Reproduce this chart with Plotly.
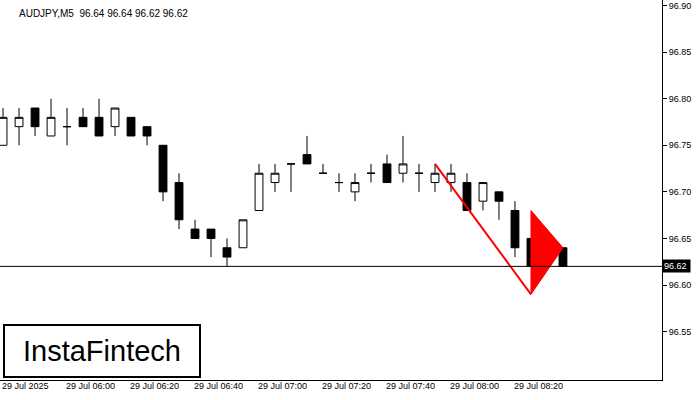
import plotly.graph_objects as go

# candles from 05:40, 5 minute bars
idx = list(range(36))
opens = [96.75, 96.77, 96.79, 96.76, 96.77, 96.78, 96.78, 96.77, 96.78, 96.77,
         96.75, 96.71, 96.66, 96.66, 96.64, 96.64, 96.68, 96.71, 96.73, 96.74,
         96.72, 96.71, 96.70, 96.72, 96.73, 96.72, 96.72, 96.71, 96.71, 96.71,
         96.69, 96.70, 96.68, 96.65, 96.63, 96.64]
highs = [96.79, 96.79, 96.79, 96.80, 96.79, 96.79, 96.80, 96.79, 96.78, 96.77,
         96.75, 96.72, 96.67, 96.66, 96.65, 96.67, 96.73, 96.73, 96.73, 96.76,
         96.73, 96.72, 96.72, 96.73, 96.74, 96.76, 96.73, 96.73, 96.73, 96.72,
         96.71, 96.70, 96.69, 96.65, 96.65, 96.64]
lows = [96.75, 96.75, 96.76, 96.76, 96.75, 96.77, 96.76, 96.76, 96.76, 96.75,
        96.69, 96.66, 96.65, 96.63, 96.62, 96.64, 96.68, 96.70, 96.70, 96.73,
        96.72, 96.70, 96.69, 96.71, 96.71, 96.71, 96.70, 96.70, 96.70, 96.68,
        96.68, 96.67, 96.63, 96.62, 96.62, 96.62]
closes = [96.78, 96.78, 96.77, 96.78, 96.77, 96.77, 96.76, 96.79, 96.76, 96.76,
          96.70, 96.67, 96.65, 96.65, 96.63, 96.67, 96.72, 96.72, 96.73, 96.73,
          96.72, 96.71, 96.71, 96.72, 96.71, 96.73, 96.72, 96.72, 96.72, 96.68,
          96.71, 96.69, 96.64, 96.62, 96.65, 96.62]

tick_idx = [0, 4, 8, 12, 16, 20, 24, 28, 32]
tick_text = ["29 Jul 2025", "29 Jul 06:00", "29 Jul 06:20", "29 Jul 06:40", "29 Jul 07:00",
             "29 Jul 07:20", "29 Jul 07:40", "29 Jul 08:00", "29 Jul 08:20"]
price_ticks = [96.55, 96.60, 96.65, 96.70, 96.75, 96.80, 96.85, 96.90]
last_price = 96.62

# pennant pattern
pole_x = [27, 33]
pole_y = [96.73, 96.59]
flag_x = [33, 33, 35, 33]
flag_y = [96.68, 96.59, 96.64, 96.68]

font = "Liberation Sans, Arial, sans-serif"

fig = go.Figure()
fig.add_trace(go.Scatter(x=flag_x, y=flag_y, fill="toself", fillcolor="#ff0000",
                         line=dict(color="#ff0000", width=1), mode="lines", hoverinfo="skip"))
fig.add_trace(go.Scatter(x=pole_x, y=pole_y, mode="lines",
                         line=dict(color="#ff0000", width=2), hoverinfo="skip"))
fig.add_trace(go.Candlestick(
    x=idx, open=opens, high=highs, low=lows, close=closes,
    increasing=dict(line=dict(color="black", width=1), fillcolor="white"),
    decreasing=dict(line=dict(color="black", width=1), fillcolor="black"),
    whiskerwidth=0,
))
fig.add_hline(y=last_price, line=dict(color="black", width=1))

for i, t in zip(tick_idx, tick_text):
    fig.add_annotation(x=i, y=0, yref="paper", yanchor="top", xanchor="left", text=t,
                       showarrow=False, xshift=-3, yshift=1, font=dict(size=9, color="black", family=font))

fig.add_annotation(x=1, xref="paper", xanchor="left", y=last_price, text="96.62 ",
                   showarrow=False, bgcolor="black", borderpad=1,
                   font=dict(size=9, color="white", family=font))
fig.add_annotation(x=0.025, xref="paper", y=0.985, yref="paper", xanchor="left", yanchor="top",
                   text="AUDJPY,M5  96.64 96.64 96.62 96.62", showarrow=False,
                   font=dict(size=10, color="black", family=font))
fig.add_annotation(x=0.004, xref="paper", y=0.005, yref="paper", xanchor="left", yanchor="bottom",
                   text="InstaFintech", showarrow=False, bgcolor="white", bordercolor="black",
                   borderwidth=2, borderpad=0, width=194, height=50, align="center",
                   font=dict(size=29, color="black", family=font))

fig.update_layout(
    width=700, height=400, margin=dict(l=0, r=38, t=0, b=20, autoexpand=False),
    paper_bgcolor="white", plot_bgcolor="white", showlegend=False,
    xaxis=dict(range=[-0.19, 41.19], showgrid=False, showticklabels=False, zeroline=False,
               rangeslider=dict(visible=False), showline=True, linecolor="black", mirror=True),
    yaxis=dict(range=[96.498, 96.906], side="right", tickvals=price_ticks,
               ticktext=[f"{v:.2f}" for v in price_ticks], showgrid=False, zeroline=False,
               ticks="outside", ticklen=4, tickcolor="black", showline=True, linecolor="black", mirror=True,
               ticklabeloverflow="allow", tickfont=dict(size=9, color="black", family=font)),
)

fig.write_html("out.html", config={"displayModeBar": False},
               post_script="document.body.style.margin='0';")
